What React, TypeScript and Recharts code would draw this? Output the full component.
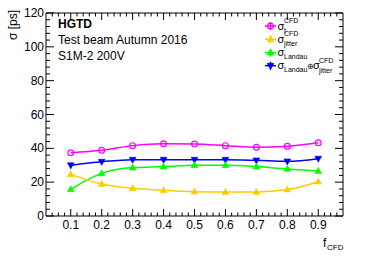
import { Line, LineChart, XAxis, YAxis } from "recharts";

const fCfd = [0.1, 0.2, 0.3, 0.4, 0.5, 0.6, 0.7, 0.8, 0.9];
const sigmaT = [37.4, 38.8, 41.6, 42.7, 42.5, 41.6, 40.6, 41.2, 43.3];
const sigmaJitter = [24.6, 18.9, 16.4, 15.2, 14.4, 14.2, 14.2, 15.6, 20.3];
const sigmaLandau = [15.8, 25.2, 28.6, 29.2, 30.0, 30.0, 29.2, 27.8, 26.6];
const sigmaSum = [30.0, 32.1, 33.3, 33.3, 33.3, 33.3, 32.9, 32.3, 33.9];

const xMajorTicks = [0.1, 0.2, 0.3, 0.4, 0.5, 0.6, 0.7, 0.8, 0.9];
const yMajorTicks = [0, 20, 40, 60, 80, 100, 120];

const FONT = "'Liberation Sans', Arial, Helvetica, sans-serif";
const MAGENTA = "#ff00ff";
const YELLOW = "#ffcc00";
const GREEN = "#00ff00";
const BLUE = "#0000ff";

const W = 381;
const H = 258;

const data = fCfd.map((f, i) => ({
  f,
  t: sigmaT[i],
  jitter: sigmaJitter[i],
  landau: sigmaLandau[i],
  sum: sigmaSum[i],
}));

// minor ticks every 0.02 on x, every 4 on y
const xTicks: number[] = [];
for (let k = 2; k <= 48; k++) xTicks.push(Math.round(k * 2) / 100);
const yTicks: number[] = [];
for (let v = 0; v <= 120; v += 4) yTicks.push(v);

const isMajorX = (v: number) => xMajorTicks.some((m) => Math.abs(m - v) < 1e-6);
const isMajorY = (v: number) => yMajorTicks.includes(v);

function BottomTick(props: any) {
  const { x, y, payload } = props;
  const v = payload.value as number;
  const major = isMajorX(v);
  return (
    <g>
      <line x1={x} x2={x} y1={y} y2={y - (major ? 7 : 3.5)} stroke="#000" />
      {major && (
        <text x={x} y={y + 13} textAnchor="middle" fontSize={12} fontFamily={FONT} fill="#000">
          {v.toFixed(1)}
        </text>
      )}
    </g>
  );
}

function TopTick(props: any) {
  const { x, y, payload } = props;
  const major = isMajorX(payload.value);
  return <line x1={x} x2={x} y1={y} y2={y + (major ? 7 : 3.5)} stroke="#000" />;
}

function LeftTick(props: any) {
  const { x, y, payload } = props;
  const v = payload.value as number;
  const major = isMajorY(v);
  return (
    <g>
      <line x1={x} x2={x + (major ? 8 : 4)} y1={y} y2={y} stroke="#000" />
      {major && (
        <text x={x - 2} y={y + 4} textAnchor="end" fontSize={12} fontFamily={FONT} fill="#000">
          {v}
        </text>
      )}
    </g>
  );
}

function RightTick(props: any) {
  const { x, y, payload } = props;
  const major = isMajorY(payload.value);
  return <line x1={x} x2={x - (major ? 8 : 4)} y1={y} y2={y} stroke="#000" />;
}

type MarkerKind = "circle" | "up" | "down";

function drawMarker(kind: MarkerKind, cx: number, cy: number, color: string) {
  if (kind === "circle") {
    return <circle cx={cx} cy={cy} r={2.9} fill="none" stroke={color} strokeWidth={1.2} />;
  }
  const s = kind === "up" ? 1 : -1;
  const pts = `${cx},${cy - 3.6 * s} ${cx - 3.4},${cy + 2.4 * s} ${cx + 3.4},${cy + 2.4 * s}`;
  return <polygon points={pts} fill={color} stroke={color} strokeWidth={0.6} />;
}

function makeDot(kind: MarkerKind, color: string) {
  return (props: any) => {
    const { cx, cy, index } = props;
    return <g key={`${kind}-${color}-${index}`}>{drawMarker(kind, cx, cy, color)}</g>;
  };
}

const legendRows: { color: string; kind: MarkerKind }[] = [
  { color: MAGENTA, kind: "circle" },
  { color: YELLOW, kind: "up" },
  { color: GREEN, kind: "up" },
  { color: BLUE, kind: "down" },
];

function Overlay() {
  const lx = 270.5;
  const rowY = [26, 39.3, 52.7, 65.7];
  const sx = 277.5;
  const small = { fontSize: 7, fontFamily: FONT, fill: "#000" } as const;
  const sig = { fontSize: 11, fontFamily: FONT, fill: "#000" } as const;
  return (
    <svg width={W} height={H} style={{ position: "absolute", left: 0, top: 0, pointerEvents: "none" }}>
      <text x={58} y={28} fontSize={12} fontWeight="bold" fontFamily={FONT}>
        HGTD
      </text>
      <text x={58} y={44} fontSize={12} fontFamily={FONT}>
        Test beam Autumn 2016
      </text>
      <text x={58} y={60} fontSize={12} fontFamily={FONT}>
        S1M-2 200V
      </text>

      <text
        x={0}
        y={0}
        transform="translate(17,10) rotate(-90)"
        textAnchor="end"
        fontSize={12}
        fontFamily={FONT}
      >
        σ [ps]
      </text>

      <text x={323} y={247} fontSize={12} fontFamily={FONT}>
        f
      </text>
      <text x={327} y={250} fontSize={8} fontFamily={FONT}>
        CFD
      </text>

      {legendRows.map((r, i) => (
        <g key={i}>
          <line x1={lx - 5.5} x2={lx + 5.5} y1={rowY[i]} y2={rowY[i]} stroke={r.color} strokeWidth={1.5} />
          <line x1={lx} x2={lx} y1={rowY[i] - 4} y2={rowY[i] + 4} stroke={r.color} strokeWidth={1.5} />
          {drawMarker(r.kind, lx, rowY[i], r.color)}
        </g>
      ))}

      <text x={sx} y={rowY[0] + 3.5} {...sig}>σ</text>
      <text x={284} y={rowY[0] - 3} {...small}>CFD</text>
      <text x={284} y={rowY[0] + 7} {...small}>t</text>

      <text x={sx} y={rowY[1] + 3.5} {...sig}>σ</text>
      <text x={284} y={rowY[1] - 3} {...small}>CFD</text>
      <text x={284} y={rowY[1] + 7} {...small}>jitter</text>

      <text x={sx} y={rowY[2] + 3.5} {...sig}>σ</text>
      <text x={284} y={rowY[2] + 6.5} {...small}>Landau</text>

      <text x={sx} y={rowY[3] + 3.5} {...sig}>σ</text>
      <text x={284} y={rowY[3] + 6.5} {...small}>Landau</text>
      <text x={306.5} y={rowY[3] + 3} fontSize={8} fontFamily={FONT}>⊕</text>
      <text x={313} y={rowY[3] + 3.5} {...sig}>σ</text>
      <text x={319} y={rowY[3] - 3} {...small}>CFD</text>
      <text x={319} y={rowY[3] + 7} {...small}>jitter</text>
    </svg>
  );
}

export default function App() {
  return (
    <div style={{ position: "absolute", left: 0, top: 0, width: W, height: H, background: "#fff" }}>
      <LineChart width={W} height={H} data={data} margin={{ top: 12, right: 37, bottom: 41, left: 45 }}>
        <XAxis
          dataKey="f"
          type="number"
          domain={[0.02, 0.98]}
          allowDataOverflow
          ticks={xTicks}
          interval={0}
          height={1}
          tickSize={0}
          tickMargin={0}
          tick={<BottomTick />}
          axisLine={{ stroke: "#000" }}
          tickLine={false}
        />
        <XAxis
          xAxisId="top"
          dataKey="f"
          orientation="top"
          type="number"
          domain={[0.02, 0.98]}
          allowDataOverflow
          ticks={xTicks}
          interval={0}
          height={1}
          tickSize={0}
          tickMargin={0}
          tick={<TopTick />}
          axisLine={{ stroke: "#000" }}
          tickLine={false}
        />
        <YAxis
          type="number"
          domain={[0, 120]}
          allowDataOverflow
          ticks={yTicks}
          interval={0}
          width={1}
          tickSize={0}
          tickMargin={0}
          tick={<LeftTick />}
          axisLine={{ stroke: "#000" }}
          tickLine={false}
        />
        <YAxis
          yAxisId="right"
          orientation="right"
          type="number"
          domain={[0, 120]}
          allowDataOverflow
          ticks={yTicks}
          interval={0}
          width={1}
          tickSize={0}
          tickMargin={0}
          tick={<RightTick />}
          axisLine={{ stroke: "#000" }}
          tickLine={false}
        />
        <Line
          dataKey="t"
          type="monotone"
          stroke={MAGENTA}
          strokeWidth={1.5}
          dot={makeDot("circle", MAGENTA)}
          isAnimationActive={false}
        />
        <Line
          dataKey="sum"
          type="monotone"
          stroke={BLUE}
          strokeWidth={1.5}
          dot={makeDot("down", BLUE)}
          isAnimationActive={false}
        />
        <Line
          dataKey="landau"
          type="monotone"
          stroke={GREEN}
          strokeWidth={1.5}
          dot={makeDot("up", GREEN)}
          isAnimationActive={false}
        />
        <Line
          dataKey="jitter"
          type="monotone"
          stroke={YELLOW}
          strokeWidth={1.5}
          dot={makeDot("up", YELLOW)}
          isAnimationActive={false}
        />
      </LineChart>
      <Overlay />
    </div>
  );
}
